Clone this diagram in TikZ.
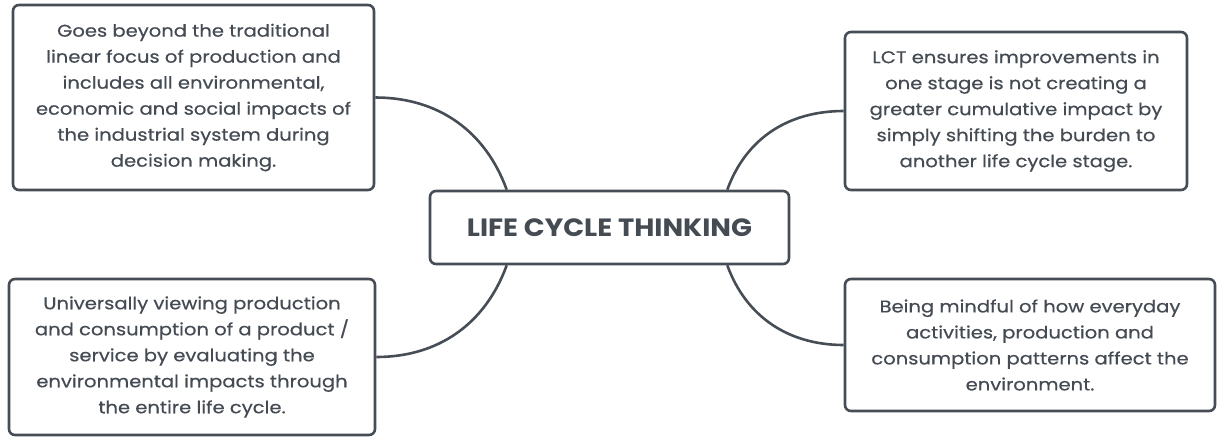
\documentclass[tikz,border=0pt]{standalone}
\usepackage{fontspec}
\setmainfont{Poppins}[FakeStretch=1.15, FakeBold=0.5]
\newfontfamily\titlefont{Poppins}[FakeStretch=1.1]
\usetikzlibrary{calc}
\definecolor{ink}{HTML}{464D55}
\definecolor{txt}{HTML}{454B53}
\begin{document}
\begin{tikzpicture}[x=1pt,y=-1pt,
  box/.style={draw=ink, line width=2.6pt, rounded corners=6pt, fill=white,
    align=center, inner sep=0pt, text=txt,
    font=\fontsize{17}{26}\selectfont},
  link/.style={draw=ink, line width=2.6pt}]
\useasboundingbox (0,0) rectangle (1217,437);
% central topic and the points where its branches meet it
\node[box, minimum width=359pt, minimum height=73pt,
      font=\titlefont\fontsize{25}{30}\selectfont\bfseries] (c) at (609.5,227.5) {LIFE CYCLE THINKING};
\coordinate (ctl) at ($(c.north west)+(78,0)$);
\coordinate (ctr) at ($(c.north east)+(-63,0)$);
\coordinate (cbl) at ($(c.south west)+(78,0)$);
\coordinate (cbr) at ($(c.south east)+(-63,0)$);
% the four branch notes
\node[box, minimum width=361pt, minimum height=185pt] (tl) at (193.5,97.5)
  {Goes beyond the traditional\\linear focus of production and\\includes all environmental,\\economic and social impacts of\\the industrial system during\\decision making.};
\node[box, minimum width=342pt, minimum height=158pt] (tr) at (1016,111)
  {LCT ensures improvements in\\one stage is not creating a\\greater cumulative impact by\\simply shifting the burden to\\another life cycle stage.};
\node[box, minimum width=366pt, minimum height=156pt] (bl) at (192,357)
  {Universally viewing production\\and consumption of a product /\\service by evaluating the\\environmental impacts through\\the entire life cycle.};
\node[box, minimum width=370pt, minimum height=132pt] (br) at (1030,345)
  {Being mindful of how everyday\\activities, production and\\consumption patterns affect the\\environment.};
% curved branches
\draw[link] (tl.east) to[out=0, in=110] (ctl);
\draw[link] (tr.west) to[out=180, in=70] (ctr);
\draw[link] (bl.east) to[out=0, in=-110] (cbl);
\draw[link] (br.west) to[out=180, in=-70] (cbr);
\end{tikzpicture}
\end{document}
